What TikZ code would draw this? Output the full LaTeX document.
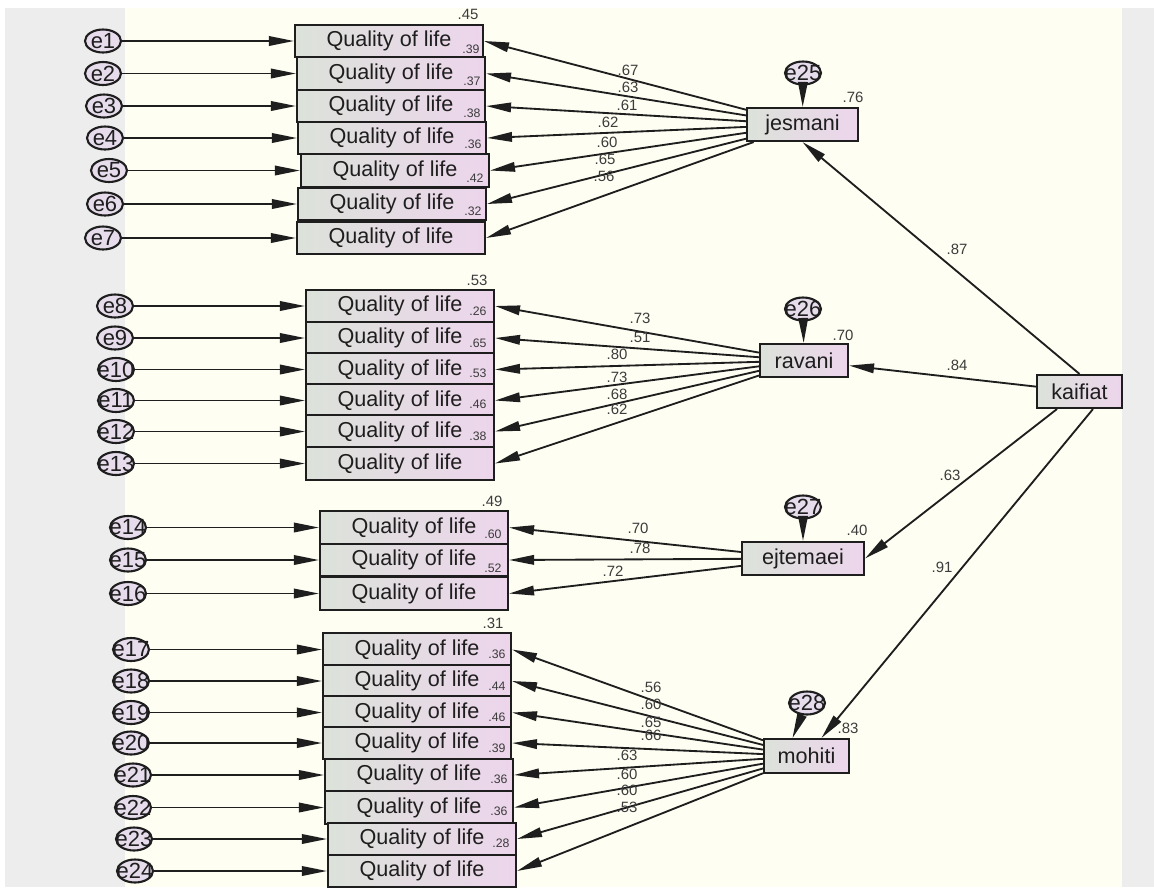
\documentclass[tikz,border=0pt]{standalone}
\usepackage{fontspec}
\setmainfont{Liberation Sans}
\usetikzlibrary{positioning,arrows.meta,shapes.geometric}
\definecolor{canvas}{HTML}{FEFEF3}
\definecolor{frame}{HTML}{EDEDED}
\definecolor{ink}{HTML}{1E1E1E}
\definecolor{num}{HTML}{3C3C3C}
\definecolor{boxl}{HTML}{DCE2DA}
\definecolor{boxr}{HTML}{EDD5EC}
\definecolor{errfill}{HTML}{E6DCEB}

\begin{document}
\begin{tikzpicture}[x=0.02cm,y=-0.02cm,every node/.style={text=ink},
  obs/.style={draw=ink,line width=1.2pt,left color=boxl,right color=boxr,minimum width=3.76cm,minimum height=0.65cm,inner sep=0pt,font=\fontsize{12.3}{12}\selectfont},
  lat/.style={obs,minimum height=0.66cm},
  err/.style={ellipse,draw=ink,line width=1.2pt,fill=errfill,minimum width=0.72cm,minimum height=0.46cm,inner sep=0pt,font=\fontsize{12.5}{12}\selectfont},
  coef/.style={text=num,inner sep=0pt,font=\fontsize{8.5}{9}\selectfont},
  rsq/.style={text=num,inner sep=0pt,font=\fontsize{7}{8}\selectfont},
  link/.style={draw=ink,line width=1.05pt,-{Triangle[length=0.5cm,width=0.19cm]}}]
  % background
  \fill[white] (0,0) rectangle (1154,887);
  \fill[frame] (5,8) rectangle (125,887);
  \fill[canvas] (125,8) rectangle (1122,887);
  \fill[frame] (1122,8) rectangle (1154,887);
  \useasboundingbox (0,0) rectangle (1154,887);

  % indicators
  \foreach \n/\ex/\bx/\y in {1/103/389/41,2/103/391/73.5,3/104/391/106,4/105/392/138,5/109/395/170.5,6/105/392/204,7/103/391/238,
    8/115/400/306,9/115/400/338,10/116/400/369.5,11/116/400/400.5,12/116/400/431.5,13/116/400/463.5,
    14/128/414/527.5,15/128/414/560,16/128/414/593.5,
    17/131/417/649.5,18/131/417/681,19/131/417/712.5,20/131/417/743,21/133/419/775,22/133/419/807.5,23/134/422/839,24/135/422/871}{
    \node[obs] (q\n) at (\bx,\y) {Quality of life};
    \node[err] (e\n) at (\ex,\y) {\makebox[0pt]{e\n}};
    \draw[link] (e\n.east) -- (e\n -| q\n.west);
  }

  % factors
  \node[lat,minimum width=2.22cm] (jes) at (802.5,124.5) {jesmani};
  \node[lat,minimum width=1.76cm] (rav) at (804,360.5) {ravani};
  \node[lat,minimum width=2.44cm] (ejt) at (803,558.5) {ejtemaei};
  \node[lat,minimum width=1.7cm,minimum height=0.68cm] (moh) at (806.5,756) {mohiti};
  \node[lat,minimum width=1.7cm] (kaif) at (1079.5,391.5) {kaifiat};
  \node[err] (e25) at (803,73) {\makebox[0pt]{e25}};
  \node[err] (e26) at (803,309) {\makebox[0pt]{e26}};
  \node[err] (e27) at (803,507) {\makebox[0pt]{e27}};
  \node[err] (e28) at (807,703) {\makebox[0pt]{e28}};

  \draw[link] (e25) -- (jes);
  \draw[link] (e26) -- (rav);
  \draw[link] (e27) -- (ejt);
  \draw[link] (e28) -- ([xshift=-0.28cm]moh.north);
  \foreach \n in {1,...,7} \draw[link] (jes) -- (q\n.east);
  \foreach \n in {8,...,13} \draw[link] (rav) -- (q\n.east);
  \foreach \n in {14,15,16} \draw[link] (ejt) -- (q\n.east);
  \foreach \n in {17,...,24} \draw[link] (moh) -- (q\n.east);

  \draw[link] (kaif.north) -- (jes.south);
  \draw[link] (kaif) -- (rav);
  \draw[link] (kaif) -- (ejt.east);
  \draw[link] ([xshift=0.27cm]kaif.south) -- ([xshift=0.3cm]moh.north);

  % loadings
  \foreach \v/\x/\y [count=\k] in {.67/628/70,.63/628/87,.61/627/105,.62/608/122,.60/607/142,.65/605/159,.56/604/176,
    .73/640/318,.51/640/337,.80/617/354,.73/617/377,.68/617/394,.62/617/409,
    .70/638/528,.78/640/548,.72/613/571,
    .56/651/687,.60/651/704,.65/651/722,.66/651/735,.63/627/755,.60/627/774,.60/627/790,.53/627/807,
    .87/957/249,.84/957/365,.63/950/475,.91/942/567}
    \node[coef] (ld\k) at (\x,\y) {\v};

  % squared multiple correlations
  \foreach \v/\x/\y [count=\k] in {.45/468/14,.53/477/280,.49/492/501,.31/493/623,
    .76/853/97,.70/843/335,.40/857/530,.83/848/728}
    \node[coef] (sm\k) at (\x,\y) {\v};
  \foreach \v/\x/\y [count=\k] in {.39/471/49,.37/472/81,.38/472/113,.36/473/144,.42/475/178,.32/473/211,
    .26/478/311,.65/478/343,.53/478/373,.46/478/404,.38/478/436,
    .60/493/534,.52/493/568,
    .36/497/654,.44/497/686,.46/497/717,.39/497/748,.36/499/779,.36/499/811,.28/501/843}
    \node[rsq] (sq\k) at (\x,\y) {\v};
\end{tikzpicture}
\end{document}
